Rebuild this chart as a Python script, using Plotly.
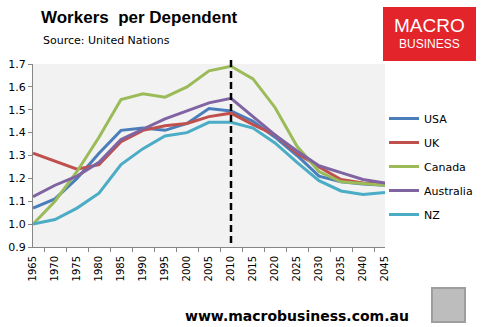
import plotly.graph_objects as go

# Five-year steps, historical through 2010 then UN projections
YEARS = ["1965", "1970", "1975", "1980", "1985", "1990", "1995", "2000", "2005",
         "2010", "2015", "2020", "2025", "2030", "2035", "2040", "2045"]

USA = [1.07, 1.11, 1.20, 1.31, 1.41, 1.42, 1.41, 1.44, 1.505, 1.495,
       1.45, 1.38, 1.30, 1.21, 1.185, 1.175, 1.17]
UK = [1.31, 1.275, 1.24, 1.26, 1.36, 1.41, 1.43, 1.44, 1.47, 1.485,
      1.435, 1.39, 1.31, 1.25, 1.195, 1.18, 1.175]
CANADA = [1.00, 1.10, 1.23, 1.38, 1.545, 1.57, 1.555, 1.60, 1.67, 1.69,
          1.635, 1.51, 1.34, 1.23, 1.185, 1.178, 1.17]
AUSTRALIA = [1.12, 1.17, 1.21, 1.27, 1.37, 1.415, 1.46, 1.495, 1.53, 1.55,
             1.47, 1.39, 1.32, 1.255, 1.225, 1.195, 1.18]
NZ = [1.00, 1.02, 1.07, 1.135, 1.26, 1.33, 1.385, 1.40, 1.445, 1.445,
      1.42, 1.355, 1.27, 1.19, 1.145, 1.13, 1.138]

SERIES = [
    ("USA", USA, "#4A7EBB"),
    ("UK", UK, "#C0504D"),
    ("Canada", CANADA, "#9BBB59"),
    ("Australia", AUSTRALIA, "#8064A2"),
    ("NZ", NZ, "#4BACC6"),
]

PROJECTION_START = "2010"

# Plot-area geometry in pixels, used to place decorations in paper units
L, R, T, B = 33, 385, 64, 247
W, H = R - L, B - T


def px(x):
    return (x - L) / W


def py(y):
    return (B - y) / H


fig = go.Figure()
for name, vals, color in SERIES:
    fig.add_trace(go.Scatter(
        x=YEARS, y=vals, name=name, mode="lines",
        line=dict(color=color, width=3),
        legendgroup=name,
    ))

# Dashed marker where projections begin
xi = YEARS.index(PROJECTION_START)
fig.add_shape(type="line", xref="x", yref="paper",
              x0=xi, x1=xi, y0=py(243), y1=py(58),
              line=dict(color="black", width=2.5, dash="7px,4px"))

# Logo block
fig.add_shape(type="rect", xref="paper", yref="paper",
              x0=px(383), x1=px(476), y0=py(61), y1=py(7),
              fillcolor="#E3242B", line=dict(width=0), layer="below")
fig.add_annotation(xref="paper", yref="paper", x=px(429.5), y=py(25),
                   xanchor="center", yanchor="middle",
                   text="MACRO", showarrow=False,
                   font=dict(family="Liberation Sans", size=19, color="white"))
fig.add_annotation(xref="paper", yref="paper", x=px(429.5), y=py(44),
                   xanchor="center", yanchor="middle",
                   text="BUSINESS", showarrow=False,
                   font=dict(family="Liberation Sans", size=12, color="white"))

# Badge in the bottom corner
fig.add_shape(type="rect", xref="paper", yref="paper",
              x0=px(432), x1=px(465), y0=py(322), y1=py(288),
              fillcolor="#BDBDBD", line=dict(color="#9E9E9E", width=2))

# Title block
fig.add_annotation(xref="paper", yref="paper", x=px(39), y=py(18),
                   xanchor="left", yanchor="middle", text="<b>Workers  per Dependent</b>",
                   showarrow=False,
                   font=dict(family="Liberation Sans", size=17, color="black"))
fig.add_annotation(xref="paper", yref="paper", x=px(41), y=py(40),
                   xanchor="left", yanchor="middle", text="Source: United Nations",
                   showarrow=False, font=dict(family="DejaVu Sans", size=11, color="black"))

fig.add_annotation(xref="paper", yref="paper", x=px(183), y=py(316),
                   xanchor="left", yanchor="middle", text="<b>www.macrobusiness.com.au</b>",
                   showarrow=False, font=dict(family="DejaVu Sans", size=14, color="black"))

fig.update_layout(
    width=485, height=327,
    margin=dict(l=L, r=485 - R, t=T, b=327 - B, autoexpand=False),
    paper_bgcolor="white",
    plot_bgcolor="#F2F2F2",
    showlegend=True,
    legend=dict(
        x=px(384), xanchor="left", y=py(104), yanchor="top",
        font=dict(family="DejaVu Sans", size=11, color="black"),
        bgcolor="rgba(0,0,0,0)", tracegroupgap=5,
    ),
    xaxis=dict(
        type="category", tickson="boundaries", ticks="outside", ticklen=4,
        tickcolor="#868686", showline=True, linecolor="#868686", linewidth=1,
        showgrid=False, tickangle=-90, ticklabelstandoff=4,
        tickfont=dict(family="DejaVu Sans", size=10, color="black"),
    ),
    yaxis=dict(
        range=[0.9, 1.7], dtick=0.1, tickformat=".1f",
        ticks="outside", ticklen=4, tickcolor="#868686",
        showline=True, linecolor="#868686", linewidth=1,
        showgrid=False, zeroline=False,
        tickfont=dict(family="DejaVu Sans", size=11, color="black"),
    ),
)

fig.write_html("out.html")
